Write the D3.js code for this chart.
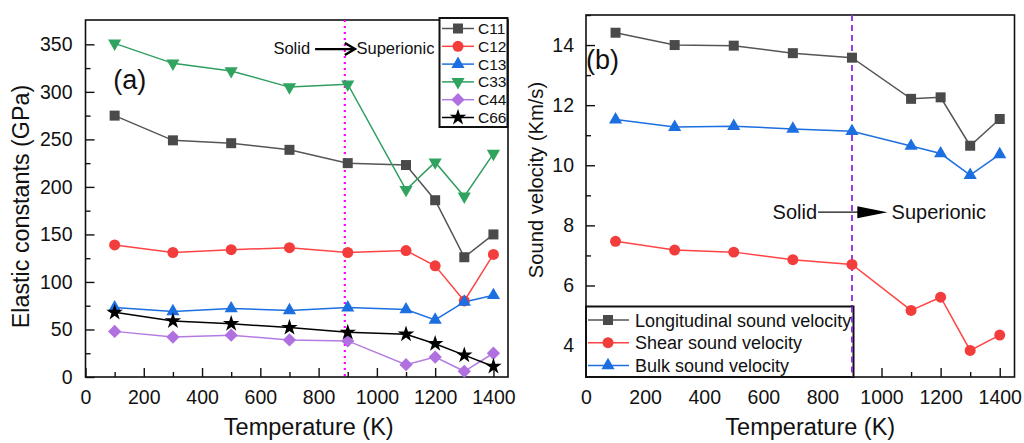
<!DOCTYPE html>
<html><head><meta charset="utf-8">
<script src="https://cdn.jsdelivr.net/npm/d3@7"></script>
<style>body{margin:0;background:#fff}svg{display:block}text{font-family:"Liberation Sans",Arial,sans-serif}</style>
</head><body><svg id="c" width="1024" height="443"></svg>
<script>
const temps = [100, 300, 500, 700, 900, 1100, 1200, 1300, 1400];
const C11 = [275, 249, 246, 239, 225, 223, 186, 126, 150];
const C12 = [139, 131, 134, 136, 131, 133, 117, 80, 129];
const C13 = [73, 69, 72, 70, 73, 71, 60, 79, 86];
const C33 = [351, 330, 322, 305, 308, 197, 226, 190, 235];
const C44 = [48, 42, 44, 39, 38, 13, 21, 6, 25];
const C66 = [68, 59, 56, 52, 47, 45, 35, 23, 11];
const vLong = [14.41, 14.0, 13.98, 13.73, 13.58, 12.21, 12.26, 10.65, 11.54];
const vShear = [7.47, 7.18, 7.11, 6.86, 6.7, 5.17, 5.61, 3.84, 4.35];
const vBulk = [11.52, 11.27, 11.3, 11.21, 11.13, 10.64, 10.39, 9.67, 10.36];
const xTicks = [0, 200, 400, 600, 800, 1000, 1200, 1400];
const yTicksA = [0, 50, 100, 150, 200, 250, 300, 350];
const yTicksB = [4, 6, 8, 10, 12, 14];

const svg = d3.select("#c");
const diamond = {draw(ctx, size){const r=Math.sqrt(size/2)*1.05;ctx.moveTo(0,-r);ctx.lineTo(r,0);ctx.lineTo(0,r);ctx.lineTo(-r,0);ctx.closePath();}};
const triDown = {draw(ctx, size){const h=Math.sqrt(size*4/Math.sqrt(3))/2;const y=h*0.577;ctx.moveTo(-h, -y);ctx.lineTo(h,-y);ctx.lineTo(0,h*1.732-y);ctx.closePath();}};
const triUp = {draw(ctx, size){const h=Math.sqrt(size*4/Math.sqrt(3))/2;const y=h*0.577;ctx.moveTo(-h, y);ctx.lineTo(h,y);ctx.lineTo(0,y-h*1.732);ctx.closePath();}};
const MK = {
  square: d3.symbol(d3.symbolSquare, 100),
  circle: d3.symbol(d3.symbolCircle, 95),
  tri: d3.symbol(triUp, 75),
  triDown: d3.symbol(triDown, 75),
  diamond: d3.symbol(diamond, 80),
  star: d3.symbol(d3.symbolStar, 85)
};

function panel(o){
  const g = svg.append("g");
  const x = d3.scaleLinear().domain([0,1450]).range([o.l,o.r]);
  const y = d3.scaleLinear().domain(o.yd).range([o.b,o.t]);
  const minorX = d3.range(100,1450,200);
  g.append("g").attr("transform",`translate(0,${o.b})`)
    .call(d3.axisBottom(x).tickValues(minorX).tickSize(-5).tickFormat(""))
    .call(s=>s.select(".domain").remove());
  g.append("g").attr("transform",`translate(0,${o.b})`)
    .call(d3.axisBottom(x).tickValues(xTicks).tickSize(-9).tickPadding(13).tickFormat(d3.format("d")))
    .call(s=>s.select(".domain").remove())
    .call(s=>s.selectAll("text").attr("font-size",19.5).attr("fill","#111"));
  g.append("g").attr("transform",`translate(${o.l},0)`)
    .call(d3.axisLeft(y).tickValues(o.minorY).tickSize(-5).tickFormat(""))
    .call(s=>s.select(".domain").remove());
  g.append("g").attr("transform",`translate(${o.l},0)`)
    .call(d3.axisLeft(y).tickValues(o.yt).tickSize(-9).tickPadding(o.ypad).tickFormat(d3.format("d")))
    .call(s=>s.select(".domain").remove())
    .call(s=>s.selectAll("text").attr("font-size",19.5).attr("fill","#111"));
  g.selectAll(".tick line").attr("stroke","#111").attr("stroke-width",1.4);
  g.append("rect").attr("x",o.l).attr("y",o.t).attr("width",o.r-o.l).attr("height",o.b-o.t)
    .attr("fill","none").attr("stroke","#111").attr("stroke-width",1.6);
  g.append("line").attr("x1",x(o.vline)).attr("x2",x(o.vline)).attr("y1",o.t).attr("y2",o.b)
    .attr("stroke",o.vcolor).attr("stroke-width",o.vw).attr("stroke-dasharray",o.vdash);
  const line = d3.line().x((d,i)=>x(temps[i])).y(d=>y(d));
  o.series.forEach(s=>{
    g.append("path").attr("d",line(s.v)).attr("fill","none").attr("stroke",s.c).attr("stroke-width",1.5);
  });
  o.series.forEach(s=>{
    g.selectAll(null).data(s.v).join("path")
      .attr("d",MK[s.m]()).attr("transform",(d,i)=>`translate(${x(temps[i])},${y(d)})`)
      .attr("fill",s.mc||s.c);
  });
  g.append("text").attr("x",(o.l+o.r)/2 + o.xtOff).attr("y",435).attr("text-anchor","middle")
    .attr("font-size",23.5).attr("fill","#111").text("Temperature (K)");
  g.append("text").attr("transform",`translate(${o.ytx},${(o.t+o.b)/2 + o.ytOff}) rotate(-90)`)
    .attr("text-anchor","middle").attr("font-size",o.ytfs).attr("fill","#111").text(o.ytitle);
  return {g,x,y};
}

const A = panel({l:85.5,r:508,t:20,b:377,yd:[0,375.6],yt:yTicksA,minorY:d3.range(25,375,50),ypad:13,
  vline:890,vcolor:"#ff00ff",vw:2.2,vdash:"2,4",xtOff:12,ytx:28.5,ytOff:8,ytfs:23.3,ytitle:"Elastic constants (GPa)",
  series:[
    {v:C11,c:"#555",mc:"#4a4a4a",m:"square"},
    {v:C12,c:"#f44",mc:"#f33c3c",m:"circle"},
    {v:C13,c:"#1c6fe0",m:"tri"},
    {v:C33,c:"#2f9e5e",mc:"#2fa35f",m:"triDown"},
    {v:C44,c:"#b47ce2",mc:"#b070e0",m:"diamond"},
    {v:C66,c:"#000",m:"star"}]});

const B = panel({l:586,r:1014.5,t:15,b:377,yd:[2.955,15],yt:yTicksB,minorY:[3,5,7,9,11,13,15],ypad:12,
  vline:900,vcolor:"#8a2be2",vw:1.8,vdash:"6,4",xtOff:10,ytx:542.5,ytOff:-16,ytfs:20.2,ytitle:"Sound velocity (Km/s)",
  series:[
    {v:vLong,c:"#555",mc:"#4a4a4a",m:"square"},
    {v:vShear,c:"#f44",mc:"#f33c3c",m:"circle"},
    {v:vBulk,c:"#1c6fe0",m:"tri"}]});

const legA = [["C11","#555","#4a4a4a","square"],["C12","#f44","#f33c3c","circle"],["C13","#1c6fe0","#1c6fe0","tri"],["C33","#2f9e5e","#2fa35f","triDown"],["C44","#b47ce2","#b070e0","diamond"],["C66","#000","#000","star"]];
const la = svg.append("g");
la.append("rect").attr("x",439.5).attr("y",18).attr("width",68).attr("height",109).attr("fill","#fff").attr("stroke","#111").attr("stroke-width",2);
legA.forEach((d,i)=>{
  const yy = 28.5 + i*17.8;
  la.append("line").attr("x1",442).attr("x2",474).attr("y1",yy).attr("y2",yy).attr("stroke",d[1]).attr("stroke-width",1.5);
  la.append("path").attr("d",MK[d[3]]()).attr("transform",`translate(458,${yy})`).attr("fill",d[2]);
  la.append("text").attr("x",478).attr("y",yy+5.5).attr("font-size",15.5).attr("fill","#111").text(d[0]);
});
const legB = [["Longitudinal sound velocity","#555","#4a4a4a","square"],["Shear sound velocity","#f44","#f33c3c","circle"],["Bulk sound velocity","#1c6fe0","#1c6fe0","tri"]];
const lb = svg.append("g");
lb.append("rect").attr("x",586).attr("y",306.5).attr("width",267.5).attr("height",70.5).attr("fill","#fff").attr("stroke","#111").attr("stroke-width",2);
legB.forEach((d,i)=>{
  const yy = 320 + i*22.7;
  lb.append("line").attr("x1",588).attr("x2",629).attr("y1",yy).attr("y2",yy).attr("stroke",d[1]).attr("stroke-width",1.5);
  lb.append("path").attr("d",MK[d[3]]()).attr("transform",`translate(608,${yy})`).attr("fill",d[2]);
  lb.append("text").attr("x",635).attr("y",yy+6.5).attr("font-size",18).attr("fill","#111").text(d[0]);
});
svg.append("line").attr("x1",B.x(900)).attr("x2",B.x(900)).attr("y1",306.5).attr("y2",377).attr("stroke","#8a2be2").attr("stroke-width",1.8).attr("stroke-dasharray","6,4");

const ax = A.x, ay = A.y;
svg.append("text").attr("x",ax(95)).attr("y",ay(303)).attr("font-size",27).attr("fill","#111").text("(a)");
svg.append("text").attr("x",ax(771)).attr("y",ay(340)).attr("text-anchor","end").attr("font-size",16.5).attr("fill","#111").text("Solid");
svg.append("path").attr("d",`M${ax(788)},${ay(345)}H${ax(922)}M${ax(890)},${ay(345)-6}L${ax(925)},${ay(345)}L${ax(890)},${ay(345)+6}`)
  .attr("fill","none").attr("stroke","#000").attr("stroke-width",2.4);
svg.append("text").attr("x",ax(930)).attr("y",ay(340)).attr("font-size",16.5).attr("fill","#111").text("Superionic");
const bx = B.x, by = B.y;
svg.append("text").attr("x",bx(0)).attr("y",by(13.2)).attr("font-size",27).attr("fill","#111").text("(b)");
svg.append("text").attr("x",bx(782)).attr("y",by(8.2)).attr("text-anchor","end").attr("font-size",20).attr("fill","#111").text("Solid");
svg.append("line").attr("x1",bx(785)).attr("x2",bx(925)).attr("y1",by(8.44)).attr("y2",by(8.44)).attr("stroke","#111").attr("stroke-width",1.3);
svg.append("path").attr("d",`M${bx(918)},${by(8.44)-6}L${bx(1020)},${by(8.44)}L${bx(918)},${by(8.44)+6}Z`).attr("fill","#000");
svg.append("text").attr("x",bx(1034)).attr("y",by(8.2)).attr("font-size",20).attr("fill","#111").text("Superionic");
</script></body></html>
